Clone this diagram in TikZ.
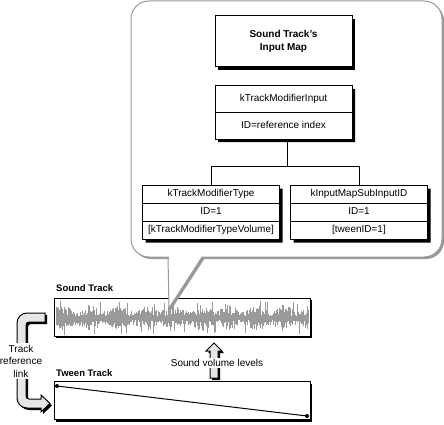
\documentclass[tikz,border=0pt]{standalone}
\usepackage{fontspec}
\setmainfont{Liberation Sans}
\usetikzlibrary{shapes.multipart,shadows}
\definecolor{balloonGray}{HTML}{999999}
\definecolor{waveGray}{HTML}{9A9A9A}
\definecolor{arrowGray}{HTML}{E6E6E6}
\tikzstyle{boxShadow} = [general shadow={fill=black, shadow xshift=3pt, shadow yshift=-3pt}]
\tikzstyle{titleBox} = [rectangle, minimum width=137pt, minimum height=51pt, align=center, draw=black, fill=white, line width=1pt, boxShadow, font=\fontsize{10}{13}\selectfont\bfseries]
\tikzstyle{field} = [rectangle split, rectangle split parts=3, minimum width=137pt, inner ysep=2.5pt, inner xsep=1pt, draw=black, fill=white, line width=1pt, boxShadow, font=\fontsize{10}{12}\selectfont]
\tikzstyle{track} = [rectangle, minimum width=256pt, minimum height=38pt, draw=black, fill=white, line width=1pt, general shadow={fill=black, shadow xshift=2pt, shadow yshift=-2pt}]
\tikzstyle{trackLabel} = [anchor=base west, inner sep=0pt, font=\fontsize{9.5}{12}\selectfont\bfseries]
\tikzstyle{plainText} = [align=center, fill=white, inner sep=1.5pt, font=\fontsize{10}{12.5}\selectfont]
\tikzstyle{dot} = [circle, fill=black, inner sep=0pt, minimum size=4pt]
\tikzstyle{link} = [line width=1pt]
\tikzstyle{wave} = [waveGray, line width=0.7pt]
\tikzstyle{hollow} = [fill=arrowGray, draw=black, line width=1pt, preaction={fill=black, transform canvas={shift={(2pt,-2pt)}}}]

\begin{document}
\begin{tikzpicture}[x=1pt, y=-1pt, node distance=71pt]
\useasboundingbox (0,0) rectangle (444,425);

\node (soundLabel)[trackLabel] at (56,291) {Sound Track};
\node (soundTrack)[track] at (182,317) {};
\pgfmathsetseed{3}
\foreach \x in {56,...,308}{
  \pgfmathsetmacro{\up}{rnd>0.93 ? 14+3*rnd : (3+10*rnd)*(0.8+0.25*sin(\x*13))}
  \pgfmathsetmacro{\dn}{rnd>0.93 ? 14+3*rnd : (3+10*rnd)*(0.8+0.25*sin(\x*13))}
  \draw[wave] (\x,318-\up) -- (\x,318+\dn);
}

\node (tweenLabel)[trackLabel] at (56,376) {Tween Track};
\node (tweenTrack)[track] at (182,400.5) {};
\node (startDot)[dot] at (57,386) {};
\node (endDot)[dot] at (307,416) {};
\draw [link](startDot) -- (endDot);

\draw [hollow] (45,313) -- (27,313) arc[start angle=270, end angle=180, radius=10] -- (17,398) arc[start angle=180, end angle=90, radius=10] -- (41,408) -- (41,412) -- (50,403.5) -- (41,395) -- (41,399) -- (29,399) arc[start angle=90, end angle=180, radius=3] -- (26,325) arc[start angle=180, end angle=270, radius=3] -- (45,322) -- cycle;
\node (linkLabel)[plainText] at (21,361) {Track\\reference\\link};

\draw [hollow] (214,343) -- (222,351) -- (218,351) -- (218,378) -- (210,378) -- (210,351) -- (206,351) -- cycle;
\node (volumeLabel)[plainText] at (217,363) {Sound volume levels};

\fill [balloonGray, rounded corners=18pt] (133,3) rectangle (444,259);
\fill [balloonGray] (170,258) -- (171,310) -- (205,258) -- cycle;
\filldraw [fill=white, draw=balloonGray, line width=1pt, rounded corners=18pt] (131,1) rectangle (442,257);
\fill [white] (168.5,255) -- (169,307.5) -- (202.5,255) -- cycle;
\draw [balloonGray, line width=1pt] (168,257) -- (169,308) -- (203,257);

\node (mapTitle)[titleBox] at (283.5,41.5) {Sound Track's\\Input Map};
\node (inputBox)[field, rectangle split parts=2, inner ysep=6.75pt, below of=mapTitle]{\strut kTrackModifierInput\nodepart{two}\strut ID=reference index};
\node (typeBox)[field] at (211,212.5) {\strut kTrackModifierType\nodepart{two}\strut ID=1\nodepart{three}\strut [kTrackModifierTypeVolume]};
\node (subInputBox)[field, right of=typeBox, xshift=77pt]{\strut kInputMapSubInputID\nodepart{two}\strut ID=1\nodepart{three}\strut [tweenID=1]};
\draw [link]([xshift=3.5pt]inputBox.south) -- ++(0,27) coordinate (branch);
\draw [link](branch) -| (typeBox.north);
\draw [link](branch) -| (subInputBox.north);
\end{tikzpicture}
\end{document}
